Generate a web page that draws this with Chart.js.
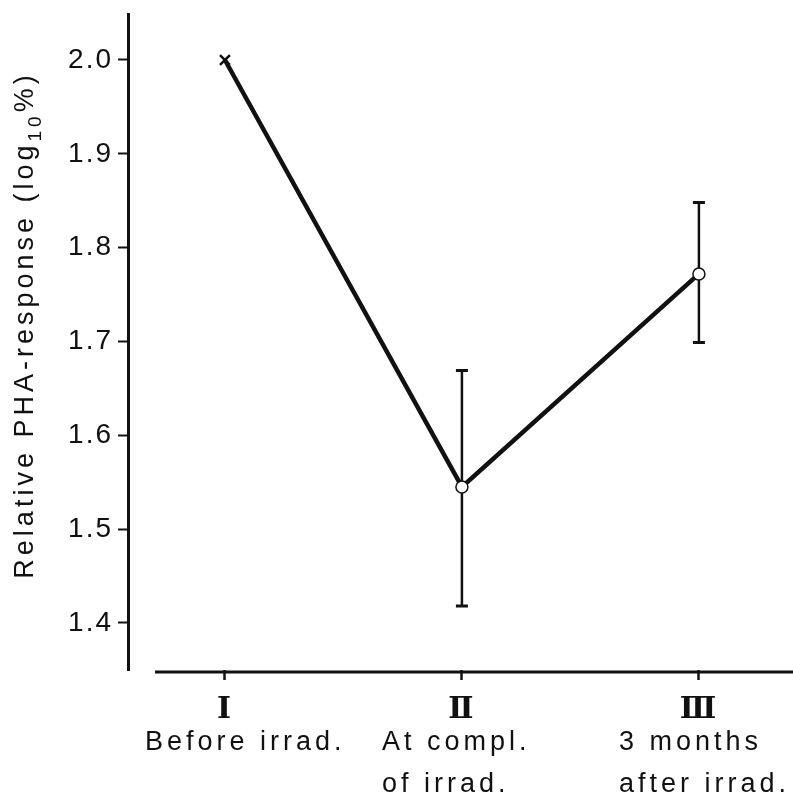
<!DOCTYPE html>
<html>
<head>
<meta charset="utf-8">
<script src="https://cdn.jsdelivr.net/npm/chart.js@4/dist/chart.umd.min.js"></script>
<style>
  body { margin: 0; background: #fff; }
  canvas { display: block; }
</style>
</head>
<body>
<canvas id="myChart" width="793" height="795"></canvas>
<script>
// Data

const categories = ["\u2160", "\u2161", "\u2162"];
const descriptions = [
  ["Before irrad."],
  ["At compl.", "of irrad."],
  ["3 months", "after irrad."],
];
const xValues = [1, 2, 3];
const means = [2.0, 1.545, 1.772];
const errLow = [null, 1.418, 1.699];
const errHigh = [null, 1.669, 1.848];
const yTicks = [1.4, 1.5, 1.6, 1.7, 1.8, 1.9, 2.0];

const ink = "#111";
const sans = "'Liberation Sans', Arial, Helvetica, sans-serif";

// Plugins

const spacingPlugin = {
  id: "spacing",
  beforeLayout(chart) { chart.ctx.letterSpacing = "2px"; },
  beforeDraw(chart) { chart.ctx.letterSpacing = "2px"; },
};

const errorBars = {
  id: "errorBars",
  beforeDatasetsDraw(chart) {
    const ctx = chart.ctx;
    const x = chart.scales.x;
    const y = chart.scales.y;
    ctx.save();
    ctx.strokeStyle = ink;
    for (let i = 0; i < xValues.length; i++) {
      if (errLow[i] === null) continue;
      const px = x.getPixelForValue(xValues[i]);
      const top = y.getPixelForValue(errHigh[i]);
      const bot = y.getPixelForValue(errLow[i]);
      ctx.lineWidth = 2.5;
      ctx.beginPath();
      ctx.moveTo(px, top);
      ctx.lineTo(px, bot);
      ctx.stroke();
      ctx.lineWidth = 3;
      ctx.beginPath();
      ctx.moveTo(px - 6, top);
      ctx.lineTo(px + 6, top);
      ctx.moveTo(px - 6, bot);
      ctx.lineTo(px + 6, bot);
      ctx.stroke();
    }
    ctx.restore();
  },
};

const axisText = {
  id: "axisText",
  afterDraw(chart) {
    const ctx = chart.ctx;
    const area = chart.chartArea;
    const x = chart.scales.x;
    ctx.save();

    // x axis line, detached from the y axis
    ctx.strokeStyle = ink;
    ctx.lineWidth = 3;
    ctx.beginPath();
    ctx.moveTo(area.left + 27, area.bottom + 2);
    ctx.lineTo(area.right, area.bottom + 2);
    ctx.stroke();

    // category descriptions
    ctx.fillStyle = ink;
    ctx.font = "27px " + sans;
    ctx.letterSpacing = "4px";
    ctx.textAlign = "left";
    ctx.textBaseline = "alphabetic";
    for (let i = 0; i < xValues.length; i++) {
      const px = x.getPixelForValue(xValues[i]);
      descriptions[i].forEach((line, j) => {
        ctx.fillText(line, px - 80, 750 + j * 42);
      });
    }

    // y axis title with subscript
    const parts = [
      { t: "Relative PHA-response (log", f: "27px " + sans, dy: 0 },
      { t: "10", f: "19px " + sans, dy: 8 },
      { t: "%)", f: "27px " + sans, dy: 0 },
    ];
    let total = 0;
    parts.forEach(p => { ctx.font = p.f; p.w = ctx.measureText(p.t).width; total += p.w; });
    ctx.translate(33, 325);
    ctx.rotate(-Math.PI / 2);
    let cx = -total / 2;
    parts.forEach(p => {
      ctx.font = p.f;
      ctx.fillText(p.t, cx, p.dy);
      cx += p.w;
    });
    ctx.restore();
  },
};

// Chart

const ctx = document.getElementById("myChart").getContext("2d");
const chart = new Chart(ctx, {
  type: "line",
  data: {
    datasets: [{
      data: xValues.map((v, i) => ({ x: v, y: means[i] })),
      borderColor: ink,
      borderWidth: 4.5,
      pointStyle: ["crossRot", "circle", "circle"],
      pointRadius: [7, 6, 6],
      pointBorderWidth: [2.5, 1.5, 1.5],
      pointBackgroundColor: "#fff",
      pointBorderColor: ink,
      tension: 0,
    }],
  },
  options: {
    responsive: false,
    animation: false,
    layout: { autoPadding: false, padding: { top: 14, right: 0, bottom: 0, left: 0 } },
    plugins: {
      legend: { display: false },
      tooltip: { enabled: false },
    },
    scales: {
      x: {
        type: "linear",
        min: 0.591,
        max: 3.397,
        afterFit: s => { s.height = 125; s.paddingLeft = 0; s.paddingRight = 0; },
        afterBuildTicks: s => { s.ticks = xValues.map(v => ({ value: v })); },
        border: { display: false },
        grid: {
          drawOnChartArea: false,
          color: ink,
          tickLength: 10,
          tickWidth: 2.5,
        },
        ticks: {
          color: ink,
          padding: 12,
          maxRotation: 0,
          font: { family: "'DejaVu Serif', serif", size: 30, weight: "bold" },
          callback: (v) => categories[xValues.indexOf(v)],
        },
      },
      y: {
        min: 1.3499,
        max: 2.049,
        afterFit: s => { s.width = 128; s.paddingTop = 0; s.paddingBottom = 0; },
        afterBuildTicks: s => { s.ticks = yTicks.map(v => ({ value: v })); },
        border: { display: true, color: ink, width: 3 },
        grid: {
          drawOnChartArea: false,
          color: ink,
          tickLength: 10,
          tickWidth: 2,
        },
        ticks: {
          color: ink,
          padding: 5,
          font: { family: sans, size: 28 },
          callback: v => v.toFixed(1),
        },
      },
    },
  },
  plugins: [spacingPlugin, errorBars, axisText],
});
</script>
</body>
</html>
